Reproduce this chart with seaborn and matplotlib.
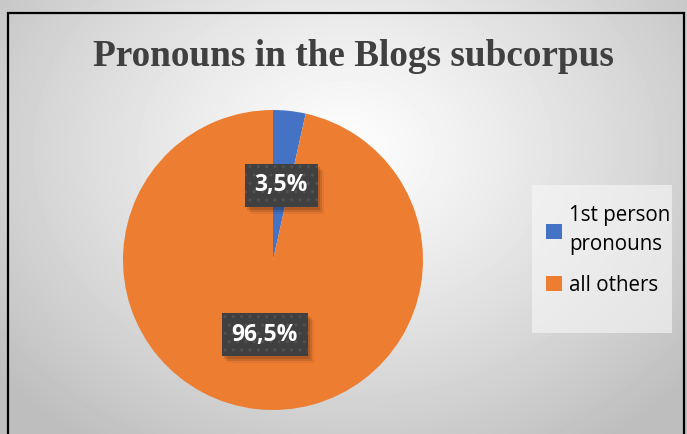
import numpy as np
import matplotlib
matplotlib.use("Agg")
import matplotlib.pyplot as plt
import matplotlib.transforms as mtransforms
from matplotlib.patches import Rectangle
import seaborn as sns

# Pronoun shares in the Blogs subcorpus
categories = ["1st person\npronouns", "all others"]
shares = [3.5, 96.5]
title = "Pronouns in the Blogs subcorpus"

sns.set_theme(style="white")
plt.rcParams["font.family"] = ["Open Sans", "DejaVu Sans"]
colors = ["#4472C4", "#ED7D31"]

W, H = 687, 434
fig = plt.figure(figsize=(W / 100, H / 100), dpi=100)

# soft radial background
bg = fig.add_axes([0, 0, 1, 1])
yy, xx = np.mgrid[0:H, 0:W]
r = np.sqrt(((xx - 345) / 430.0) ** 2 + ((yy - 150) / 340.0) ** 2)
val = np.clip(253 - 60 * r ** 1.2, 190, 255) / 255.0
bg.imshow(val, cmap="gray", vmin=0, vmax=1, extent=[0, W, H, 0], aspect="auto")
bg.set_xlim(0, W)
bg.set_ylim(H, 0)
bg.axis("off")
# frame on left, top and right
bg.plot([8, 8, 684, 684], [H + 2, 13, 13, H + 2], color="black", lw=1.6,
        solid_joinstyle="miter")
# legend panel
bg.add_patch(Rectangle((532, 185), 140, 148, facecolor="#f8f8f8",
                       edgecolor="none", alpha=0.6))

bg.text(353, 57, title, ha="center", va="center", fontsize=26.8,
        fontweight="bold", color="#404040",
        family=["Liberation Serif", "DejaVu Serif"])

# pie axes: centre (273, 260) px, radius 150 px
cx, cy, rad = 273, 260, 150
ax = fig.add_axes([(cx - rad) / W, 1 - (cy + rad) / H, 2 * rad / W, 2 * rad / H])
wedges, _, autotexts = ax.pie(
    shares, colors=colors, startangle=90, counterclock=False,
    autopct=lambda p: f"{p:.1f}%".replace(".", ","), pctdistance=0.5,
    wedgeprops=dict(linewidth=0),
)
ax.set_xlim(-1, 1)
ax.set_ylim(-1, 1)
ax.set_aspect("auto")
ax.axis("off")

for t in autotexts:
    t.set_color("white")
    t.set_fontsize(16.5)
    t.set_fontweight("bold")
    t.set_zorder(5)
    t.set_bbox(dict(boxstyle="square,pad=0.42", facecolor="#404040",
                    edgecolor="#525252", linewidth=0, hatch=".."))

# soft drop shadow behind each label box, above the wedges
fig.canvas.draw()
renderer = fig.canvas.get_renderer()
for t in autotexts:
    ext = t.get_bbox_patch().get_window_extent(renderer)
    for (dx, dy, a) in [(2, -3, 0.12), (4, -5, 0.10), (6, -7, 0.06)]:
        shadow = Rectangle((ext.x0 + dx, ext.y0 + dy), ext.width, ext.height,
                           transform=mtransforms.IdentityTransform(),
                           facecolor="black", alpha=a, linewidth=0,
                           zorder=4, clip_on=False)
        ax.add_artist(shadow)

# legend
leg = fig.legend(wedges, categories, loc="upper left",
                 bbox_to_anchor=(536 / W, 1 - 195 / H), frameon=False,
                 fontsize=14.8, handlelength=0.75, handleheight=0.75,
                 handletextpad=0.35, labelspacing=0.95, borderpad=0)
for txt in leg.get_texts():
    txt.set_color("#000000")
    txt.set_linespacing(1.5)

fig.savefig("out.png", dpi=100)
